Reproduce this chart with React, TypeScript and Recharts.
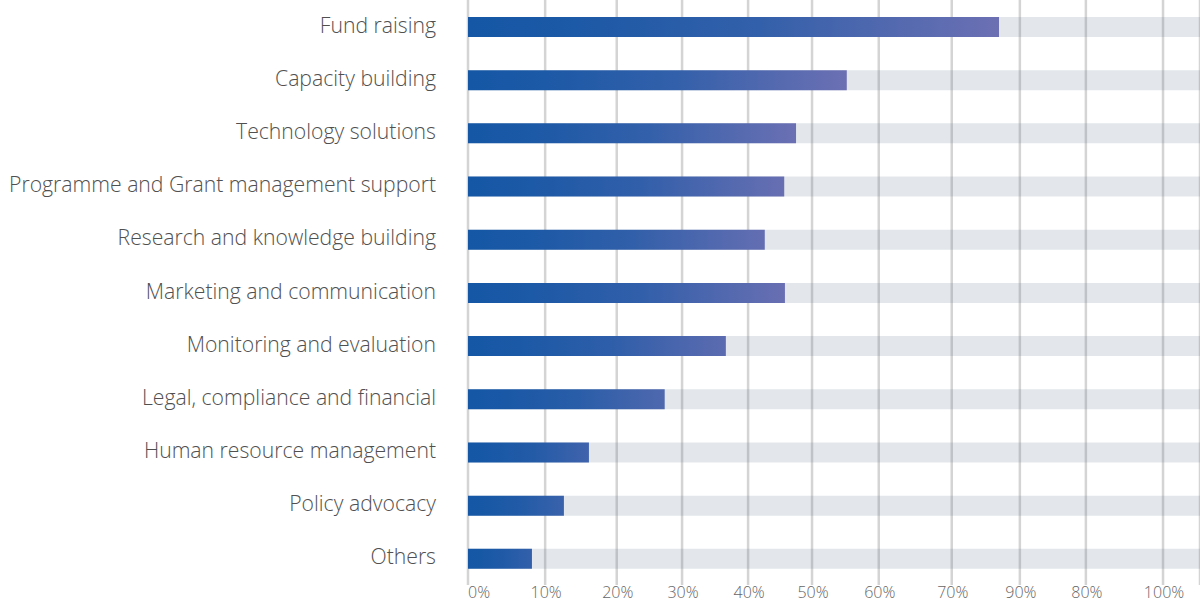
import React from 'react';
import { BarChart, Bar, XAxis, YAxis, CartesianGrid, Cell } from 'recharts';

const categories = [
  'Fund raising',
  'Capacity building',
  'Technology solutions',
  'Programme and Grant management support',
  'Research and knowledge building',
  'Marketing and communication',
  'Monitoring and evaluation',
  'Legal, compliance and financial',
  'Human resource management',
  'Policy advocacy',
  'Others',
];

const values = [76.4, 54.5, 47.2, 45.5, 42.7, 45.6, 37.1, 28.3, 17.4, 13.8, 9.2];

// gridline/tick positions as drawn in the original (uneven), and their labels
const tickValues = [0, 11.1, 21.4, 30.8, 40.3, 49.5, 59.1, 69.6, 79.4, 88.9, 100];
const tickLabels = ['0%', '10%', '20%', '30%', '40%', '50%', '60%', '70%', '90%', '80%', '100%'];

const X_MAX = 105.32;

const data = categories.map((name, i) => ({ name, value: values[i] }));

const START = [21, 87, 165];
const PURPLE = [108, 112, 179];
const mix = (a: number[], b: number[], t: number) =>
  `rgb(${a.map((v, i) => Math.round(v + (b[i] - v) * t)).join(',')})`;
const endT = (v: number) => Math.min(1, 0.2 + v / 60);

const FONT = '"Open Sans", "Noto Sans", sans-serif';

const YTick = (props: any) => {
  const { x, y, payload } = props;
  return (
    <text
      x={x - 32}
      y={y}
      dy={6}
      textAnchor="end"
      fontFamily={FONT}
      fontWeight={300}
      fontSize={21.2}
      fill="#505050"
    >
      {payload.value}
    </text>
  );
};

const XTick = (props: any) => {
  const { x, y, index } = props;
  const first = index === 0;
  return (
    <text
      x={first ? x : x + 1}
      y={y + 13}
      textAnchor={first ? 'start' : 'middle'}
      fontFamily={FONT}
      fontWeight={300}
      fontSize={16}
      fill="#666666"
    >
      {tickLabels[index]}
    </text>
  );
};

export default function App() {
  return (
    <div style={{ position: 'absolute', left: 0, top: 0, width: 1200, height: 603, background: '#fff' }}>
      <BarChart
        width={1200}
        height={603}
        data={data}
        layout="vertical"
        margin={{ top: 0, right: 0, bottom: 0, left: 0 }}
      >
        <defs>
          {values.map((v, i) => {
            const end = mix(START, PURPLE, endT(v));
            const endArr = START.map((s, k) => s + (PURPLE[k] - s) * endT(v));
            return (
              <linearGradient key={i} id={`barGrad${i}`} x1="0" y1="0" x2="1" y2="0">
                <stop offset="0" stopColor={mix(START, START, 0)} />
                <stop offset="0.2" stopColor={mix(START, endArr, 0.08)} />
                <stop offset="0.55" stopColor={mix(START, endArr, 0.35)} />
                <stop offset="1" stopColor={end} />
              </linearGradient>
            );
          })}
        </defs>
        <CartesianGrid horizontal={false} vertical stroke="#d4d4d4" strokeWidth={2.5} />
        <XAxis
          type="number"
          domain={[0, X_MAX]}
          ticks={tickValues}
          interval={0}
          height={18}
          axisLine={false}
          tickLine={false}
          tickSize={0}
          tickMargin={0}
          tick={<XTick />}
        />
        <YAxis
          type="category"
          dataKey="name"
          width={468}
          axisLine={false}
          tickLine={false}
          tickSize={0}
          tickMargin={0}
          interval={0}
          tick={<YTick />}
        />
        <Bar
          dataKey="value"
          barSize={20}
          isAnimationActive={false}
          background={{ fill: 'rgb(87,111,135)', fillOpacity: 0.167 }}
        >
          {data.map((_, i) => (
            <Cell key={i} fill={`url(#barGrad${i})`} />
          ))}
        </Bar>
      </BarChart>
    </div>
  );
}
